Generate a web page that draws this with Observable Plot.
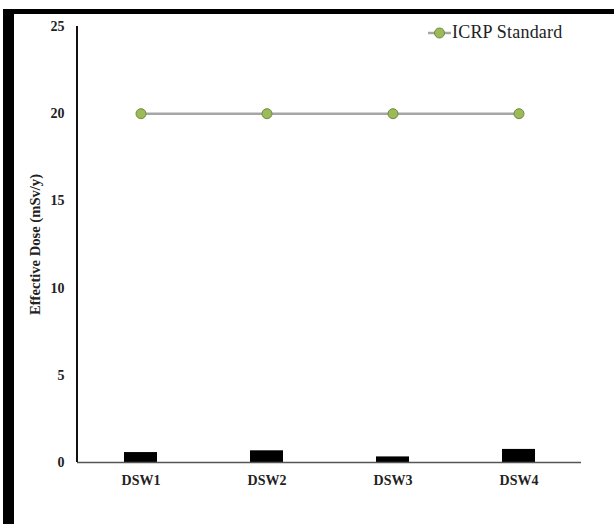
<!DOCTYPE html>
<html>
<head>
<meta charset="utf-8">
<script src="https://cdn.jsdelivr.net/npm/d3@7"></script>
<script src="https://cdn.jsdelivr.net/npm/@observablehq/plot@0.6"></script>
<style>
  html, body { margin: 0; padding: 0; background: #fff; }
  #wrap { position: relative; width: 614px; height: 524px; overflow: hidden; background: #fff; font-family: "Liberation Serif", "Times New Roman", serif; }
  #border { position: absolute; left: 3px; top: 9px; width: 620px; height: 530px; border-left: 11px solid #000; border-top: 5px solid #000; box-sizing: border-box; pointer-events: none; }
  #chart { position: absolute; left: 0; top: 0; }
  #legend { position: absolute; left: 427px; top: 22px; display: flex; align-items: center; font-size: 18px; color: #222; letter-spacing: 0.2px; }
</style>
</head>
<body>
<div id="wrap">
  <div id="chart"></div>
  <div id="border"></div>
  <div id="legend">
    <svg width="25" height="14"><line x1="1" y1="7" x2="24" y2="7" stroke="#a6a6a6" stroke-width="2.5"></line><circle cx="12.5" cy="7" r="5" fill="#9bbb59" stroke="#71893f" stroke-width="1"></circle></svg>
    <span>ICRP Standard</span>
  </div>
</div>
<script>
const categories = ["DSW1", "DSW2", "DSW3", "DSW4"];
const doseValues = [0.57, 0.67, 0.32, 0.75];
const icrpValues = [20, 20, 20, 20];
const yTicks = [0, 5, 10, 15, 20, 25];

const bars = categories.map((c, i) => ({cat: c, value: doseValues[i]}));
const icrp = categories.map((c, i) => ({cat: c, value: icrpValues[i]}));

const chart = Plot.plot({
  width: 614,
  height: 524,
  marginLeft: 77,
  marginRight: 33,
  marginTop: 26,
  marginBottom: 62,
  style: {fontFamily: "Liberation Serif, Times New Roman, serif", fontSize: "14px", fontWeight: "bold", color: "#222", background: "transparent"},
  x: {domain: categories, type: "band", paddingInner: 0.74, paddingOuter: 0.37, label: null, tickSize: 0, tickPadding: 13},
  y: {domain: [0, 25], ticks: yTicks, label: null, tickSize: 0, tickPadding: 13, tickFormat: d => d},
  marks: [
    Plot.barY(bars, {x: "cat", y: "value", fill: "#000"}),
    Plot.ruleY([0], {stroke: "#555", strokeWidth: 1.5}),
    Plot.line(icrp, {x: "cat", y: "value", stroke: "#a6a6a6", strokeWidth: 2.5}),
    Plot.dot(icrp, {x: "cat", y: "value", r: 5, fill: "#9bbb59", stroke: "#71893f", strokeWidth: 1}),
    Plot.text(["Effective Dose (mSv/y)"], {frameAnchor: "left", textAnchor: "middle", rotate: -90, dx: -42, fontSize: 14.6, fontWeight: "bold", fill: "#222"})
  ]
});
document.getElementById("chart").appendChild(chart);

// y axis line drawn through the y scale
const sy = chart.scale("y");
d3.select(chart).append("line")
  .attr("x1", 77).attr("x2", 77)
  .attr("y1", sy.apply(25)).attr("y2", sy.apply(0))
  .attr("stroke", "#111").attr("stroke-width", 2);
</script>
</body>
</html>
